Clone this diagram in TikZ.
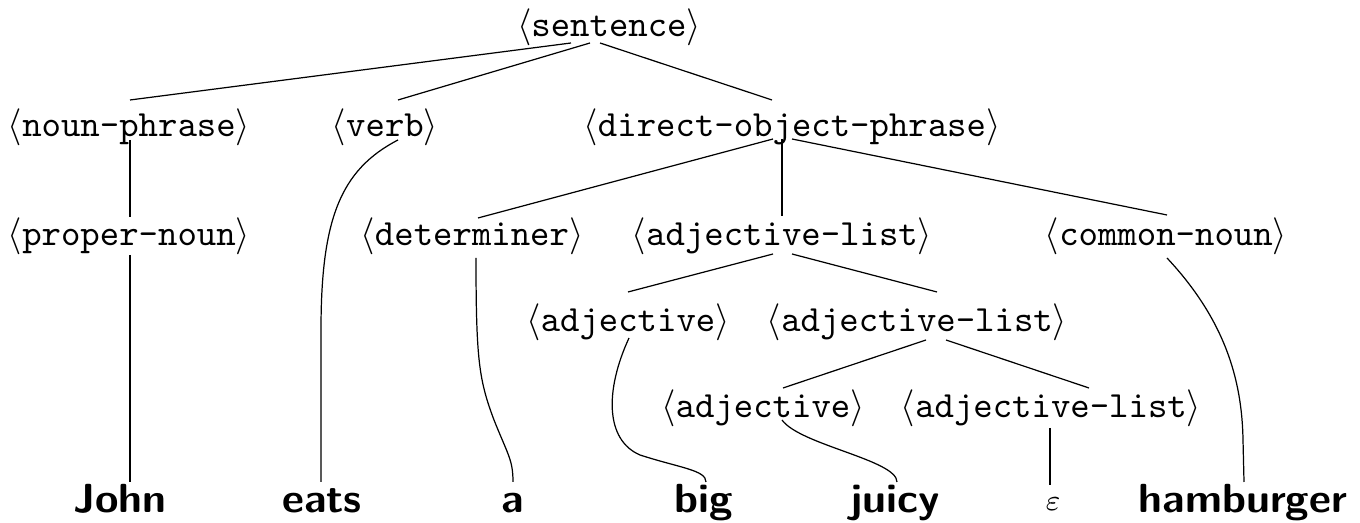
\documentclass[tikz,border=0pt]{standalone}
\usepackage{graphicx}
\usepackage[OT1,TU]{fontenc}
\usetikzlibrary{calc}
\newcommand{\leafword}[1]{\scalebox{1.05}[1]{#1}}
\newcommand{\ntfont}{\fontencoding{OT1}\fontfamily{cmtt}\selectfont}
\begin{document}
\begin{tikzpicture}[x=0.2706pt,y=-0.2706pt,
  nt/.style={inner sep=0pt,anchor=base,font=\ntfont},
  leaf/.style={inner sep=0pt,anchor=base,font=\fontsize{11}{13}\selectfont\sffamily\bfseries},
  edge/.style={line width=0.33pt}]
\useasboundingbox (0,0) rectangle (1360,523);
% nonterminals
\node[nt] (s)    at (609,37)  {$\langle$sentence$\rangle$};
\node[nt] (np)   at (129,137) {$\langle$noun-phrase$\rangle$};
\node[nt] (vb)   at (385,137) {$\langle$verb$\rangle$};
\node[nt] (dop)  at (792,137) {$\langle$direct-object-phrase$\rangle$};
\node[nt] (pn)   at (129,246) {$\langle$proper-noun$\rangle$};
\node[nt] (det)  at (472,246) {$\langle$determiner$\rangle$};
\node[nt] (al1)  at (782,246) {$\langle$adjective-list$\rangle$};
\node[nt] (cn)   at (1166,246) {$\langle$common-noun$\rangle$};
\node[nt] (adj1) at (628,332) {$\langle$adjective$\rangle$};
\node[nt] (al2)  at (917,332) {$\langle$adjective-list$\rangle$};
\node[nt] (adj2) at (763,418) {$\langle$adjective$\rangle$};
\node[nt] (al3)  at (1051,418) {$\langle$adjective-list$\rangle$};
% leaves
\node[leaf] (john)  at (120,513) {\leafword{John}};
\node[leaf] (eats)  at (322,513) {\leafword{eats}};
\node[leaf] (a)     at (513,513) {\leafword{a}};
\node[leaf] (big)   at (704,513) {\leafword{big}};
\node[leaf] (juicy) at (895,513) {\leafword{juicy}};
\node[inner sep=0pt,anchor=base,font=\footnotesize] (eps) at (1053,511) {$\varepsilon$};
\node[leaf] (ham)   at (1243,513) {\leafword{hamburger}};
% edges
\draw[edge] ($(s.base)+(-38,6)$) -- ($(np.base)+(1,-37)$);
\draw[edge] ($(s.base)+(-19,6)$) -- ($(vb.base)+(13,-37)$);
\draw[edge] ($(s.base)+(-9,6)$) -- ($(dop.base)+(-20,-37)$);
\draw[edge] ($(np.base)+(1,3)$) -- ($(pn.base)+(1,-29)$);
\draw[edge] ($(vb.base)+(13,3)$) .. controls (340,170) and (321,220) .. (321,330) -- ($(eats.base)+(-1,-31)$);
\draw[edge] ($(dop.base)+(-19,2)$) -- ($(det.base)+(6,-28)$);
\draw[edge] ($(dop.base)+(-10,2)$) -- ($(al1.base)+(0,-30)$);
\draw[edge] ($(dop.base)+(0,2)$) -- ($(cn.base)+(1,-31)$);
\draw[edge] ($(pn.base)+(1,9)$) -- ($(john.base)+(10,-31)$);
\draw[edge] ($(det.base)+(4,12)$) .. controls (476,360) and (479,380) .. (494,420) .. controls (508,455) and (513,460) .. ($(a.base)+(0,-31)$);
\draw[edge] ($(al1.base)+(-9,8)$) -- ($(adj1.base)+(0,-40)$);
\draw[edge] ($(al1.base)+(10,8)$) -- ($(al2.base)+(20,-40)$);
\draw[edge] ($(cn.base)+(1,12)$) .. controls (1225,320) and (1242,380) .. (1243,440) -- ($(ham.base)+(1,-31)$);
\draw[edge] ($(adj1.base)+(1,6)$) .. controls (605,390) and (605,440) .. (640,455) .. controls (680,468) and (706,470) .. ($(big.base)+(2,-31)$);
\draw[edge] ($(al2.base)+(9,8)$) -- ($(adj2.base)+(20,-30)$);
\draw[edge] ($(al2.base)+(29,8)$) -- ($(al3.base)+(38,-30)$);
\draw[edge] ($(adj2.base)+(19,2)$) .. controls (800,445) and (897,460) .. ($(juicy.base)+(2,-31)$);
\draw[edge] ($(al3.base)+(-1,10)$) -- ($(eps.base)+(-3,-26)$);
\end{tikzpicture}
\end{document}
